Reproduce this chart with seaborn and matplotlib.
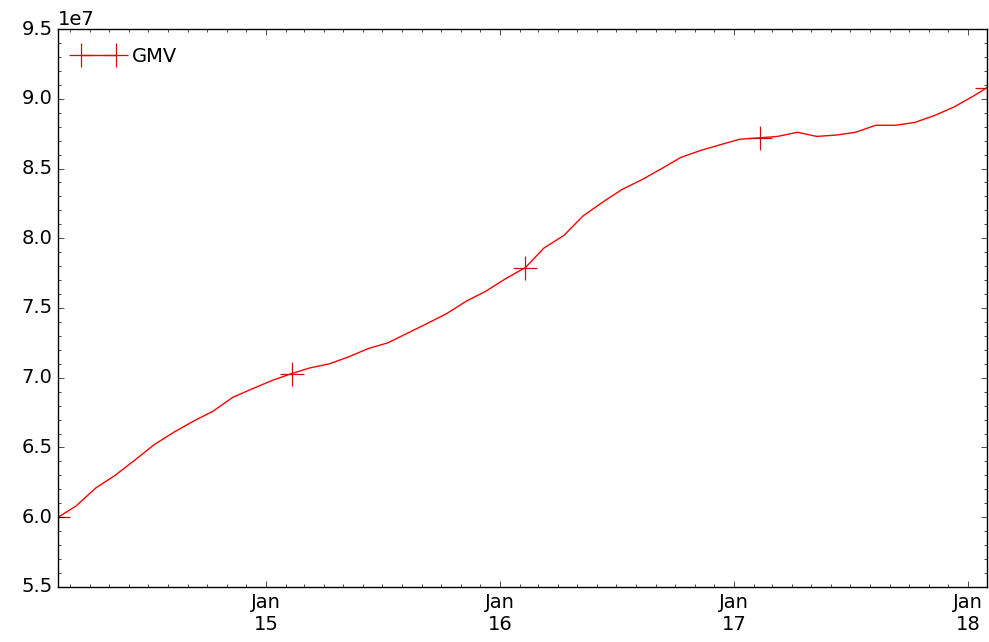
import matplotlib
matplotlib.use("Agg")
import matplotlib.pyplot as plt
import matplotlib.dates as mdates
from matplotlib.ticker import AutoMinorLocator
import seaborn as sns
import pandas as pd

plt.style.use("classic")

dates = ["2014-02-10", "2014-03-10", "2014-04-10", "2014-05-10", "2014-06-10", "2014-07-10",
         "2014-08-10", "2014-09-10", "2014-10-10", "2014-11-10", "2014-12-10", "2015-01-10",
         "2015-02-10", "2015-03-10", "2015-04-10", "2015-05-10", "2015-06-10", "2015-07-10",
         "2015-08-10", "2015-09-10", "2015-10-10", "2015-11-10", "2015-12-10", "2016-01-10",
         "2016-02-10", "2016-03-10", "2016-04-10", "2016-05-10", "2016-06-10", "2016-07-10",
         "2016-08-10", "2016-09-10", "2016-10-10", "2016-11-10", "2016-12-10", "2017-01-10",
         "2017-02-10", "2017-03-10", "2017-04-10", "2017-05-10", "2017-06-10", "2017-07-10",
         "2017-08-10", "2017-09-10", "2017-10-10", "2017-11-10", "2017-12-10", "2018-01-10",
         "2018-01-31"]
gmv = [6.00, 6.08, 6.21, 6.30, 6.41, 6.52, 6.61, 6.69, 6.76, 6.86, 6.92, 6.98,
       7.03, 7.07, 7.10, 7.15, 7.21, 7.25, 7.32, 7.39, 7.46, 7.55, 7.62, 7.71,
       7.79, 7.93, 8.02, 8.16, 8.26, 8.35, 8.42, 8.50, 8.58, 8.63, 8.67, 8.71,
       8.72, 8.73, 8.76, 8.73, 8.74, 8.76, 8.81, 8.81, 8.83, 8.88, 8.94, 9.02,
       9.08]
gmv = [v * 1e7 for v in gmv]
series_name = "GMV"

df = pd.DataFrame({"date": pd.to_datetime(dates), "GMV": gmv})

fig = plt.figure(figsize=(9.89, 6.42), dpi=100, facecolor="white")
ax = fig.add_axes([0.0587, 0.0857, 0.9393, 0.8691])

sns.lineplot(data=df, x="date", y="GMV", ax=ax, color="red", linewidth=1.0,
             marker="+", markersize=17, markeredgewidth=0.9, markeredgecolor="#d01010",
             markevery=12, label=series_name)

ax.set_xlim(df["date"].min(), df["date"].max())
ax.set_ylim(5.5e7, 9.5e7)
ax.set_xlabel("")
ax.set_ylabel("")

ax.xaxis.set_major_locator(mdates.YearLocator())
ax.xaxis.set_major_formatter(mdates.DateFormatter("%b\n%y"))
ax.xaxis.set_minor_locator(mdates.MonthLocator())
ax.yaxis.set_minor_locator(AutoMinorLocator(5))
ax.tick_params(axis="both", which="major", labelsize=14)
ax.yaxis.get_offset_text().set_fontsize(14)

leg = ax.legend(loc="upper left", frameon=False, numpoints=2, fontsize=14,
                handlelength=2.4, handletextpad=0.5)

fig.savefig("out.png", dpi=100, facecolor="white")
